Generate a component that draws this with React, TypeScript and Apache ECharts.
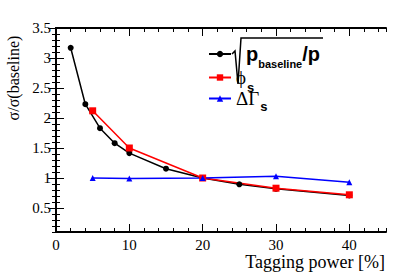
import React, { useEffect, useRef } from 'react';
import * as echarts from 'echarts';

const taggingPower = [2, 4, 6, 8, 10, 15, 20, 25, 30, 40];
const sqrtRatio = [3.17, 2.23, 1.83, 1.58, 1.415, 1.155, 1.0, 0.895, 0.82, 0.71];
const phiPower = [5, 10, 20, 30, 40];
const phiS = [2.12, 1.5, 1.0, 0.83, 0.72];
const dGammaS = [1.0, 0.99, 1.0, 1.03, 0.93];
const xMajorTicks = [0, 10, 20, 30, 40];
const yMajorTicks = [0.5, 1, 1.5, 2, 2.5, 3, 3.5];

const SERIF = "'Liberation Serif', 'DejaVu Serif', serif";
const SANS = "'Liberation Sans', Arial, sans-serif";

function xAxisPair(position: 'bottom' | 'top', withLabels: boolean) {
  return [
    {
      type: 'value', position, min: 0, max: 45, interval: 2,
      axisLine: { show: true, lineStyle: { color: '#000', width: 2 } },
      axisTick: { show: true, inside: true, length: 4, lineStyle: { color: '#000', width: 1 } },
      axisLabel: withLabels
        ? { show: true, customValues: xMajorTicks, fontFamily: SERIF, fontSize: 15, color: '#000', margin: 5 }
        : { show: false },
      splitLine: { show: false },
    },
    {
      type: 'value', position, min: 0, max: 45,
      axisLine: { show: false },
      axisTick: { show: true, inside: true, length: 8, customValues: xMajorTicks, lineStyle: { color: '#000', width: 1 } },
      axisLabel: { show: false },
      splitLine: { show: false },
    },
  ];
}

function yAxisPair(position: 'left' | 'right', withLabels: boolean) {
  return [
    {
      type: 'value', position, min: 0.1, max: 3.5, interval: 0.1,
      axisLine: { show: true, lineStyle: { color: '#000', width: 2 } },
      axisTick: { show: true, inside: true, length: 4, lineStyle: { color: '#000', width: 1 } },
      axisLabel: withLabels
        ? { show: true, customValues: yMajorTicks, fontFamily: SERIF, fontSize: 15, color: '#000', margin: 5 }
        : { show: false },
      splitLine: { show: false },
    },
    {
      type: 'value', position, min: 0.1, max: 3.5,
      axisLine: { show: false },
      axisTick: { show: true, inside: true, length: 8, customValues: yMajorTicks, lineStyle: { color: '#000', width: 1 } },
      axisLabel: { show: false },
      splitLine: { show: false },
    },
  ];
}

export default function App() {
  const ref = useRef<HTMLDivElement>(null);
  useEffect(() => {
    if (!ref.current) return;
    const chart = echarts.init(ref.current, undefined, { renderer: 'svg' });
    const rich = {
      p: { fontFamily: SANS, fontWeight: 'bold', fontSize: 20, color: '#000', padding: [0, 0, 0, 10] },
      p2: { fontFamily: SANS, fontWeight: 'bold', fontSize: 20, color: '#000' },
      sub: { fontFamily: SANS, fontWeight: 'bold', fontSize: 11, color: '#000', padding: [20, 0, 0, 0] },
      gr: { fontFamily: SERIF, fontSize: 19, color: '#000' },
      s2: { fontFamily: SANS, fontWeight: 'bold', fontSize: 13, color: '#000', padding: [20, 0, 0, 1] },
      s3: { fontFamily: SANS, fontWeight: 'bold', fontSize: 13, color: '#000', padding: [16, 0, 0, 1] },
    };
    const legendBase = {
      orient: 'vertical', left: 208, itemWidth: 22, itemHeight: 8, padding: 0,
      textStyle: { color: '#000', rich },
    };
    chart.setOption({
      animation: false,
      backgroundColor: '#fff',
      grid: { left: 56, right: 21, top: 28, bottom: 45, outerBoundsMode: 'none' },
      xAxis: [...xAxisPair('bottom', true), ...xAxisPair('top', false)],
      yAxis: [...yAxisPair('left', true), ...yAxisPair('right', false)],
      legend: [
        { ...legendBase, top: 44, data: ['sqrt'], formatter: () => '{p|p}{sub|baseline}{p2|/p}' },
        { ...legendBase, top: 68, data: ['phis'], formatter: () => '{gr|ϕ}{s2|s}' },
        { ...legendBase, top: 89, data: ['dgs'], formatter: () => '{gr|ΔΓ}{s3|s}' },
      ],
      series: [
        {
          type: 'line', name: 'sqrt', data: taggingPower.map((x, i) => [x, sqrtRatio[i]]),
          symbol: 'circle', symbolSize: 6,
          itemStyle: { color: '#000' }, lineStyle: { color: '#000', width: 1.5 },
        },
        {
          type: 'line', name: 'phis', data: phiPower.map((x, i) => [x, phiS[i]]),
          symbol: 'rect', symbolSize: 7,
          itemStyle: { color: '#ff0000' }, lineStyle: { color: '#ff0000', width: 1.5 },
        },
        {
          type: 'line', name: 'dgs', data: phiPower.map((x, i) => [x, dGammaS[i]]),
          symbol: 'triangle', symbolSize: 6,
          itemStyle: { color: '#0000ff' }, lineStyle: { color: '#0000ff', width: 1.5 },
        },
      ],
      graphic: [
        {
          type: 'polyline',
          shape: { points: [[232, 54], [235, 51], [238, 84], [241, 38], [323, 38]] },
          style: { stroke: '#000', lineWidth: 1.5, fill: 'none' },
        },
        {
          type: 'text', x: 13, y: 78, rotation: Math.PI / 2,
          style: { text: 'σ/σ(baseline)', fontFamily: SERIF, fontSize: 16, fill: '#000', align: 'center', verticalAlign: 'middle' },
        },
        {
          type: 'text', x: 385, y: 262,
          style: { text: 'Tagging power [%]', fontFamily: SERIF, fontSize: 18, fill: '#000', align: 'right', verticalAlign: 'middle' },
        },
      ],
    });
    return () => chart.dispose();
  }, []);
  return <div ref={ref} style={{ position: 'fixed', left: 0, top: 0, width: 407, height: 277 }} />;
}
